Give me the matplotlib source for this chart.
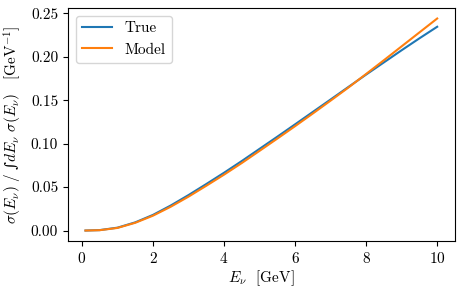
import numpy as np
import matplotlib
matplotlib.use('Agg')
import matplotlib.pyplot as plt

plt.rcParams['font.family'] = ['cmr10', 'DejaVu Serif']
plt.rcParams['mathtext.fontset'] = 'cm'
plt.rcParams['axes.formatter.use_mathtext'] = True
plt.rcParams['font.size'] = 11

# energies [GeV]
energy = [0.1, 0.5, 1.0, 1.5, 2.0, 2.5, 3.0, 3.5, 4.0, 4.5, 5.0,
          5.5, 6.0, 6.5, 7.0, 7.5, 8.0, 8.5, 9.0, 9.5, 10.0]
# normalised cross sections
true_xsec = [0.0, 0.0005, 0.0033, 0.0094, 0.0180, 0.0288, 0.0408, 0.0535, 0.0665, 0.0800, 0.0940,
             0.1080, 0.1222, 0.1365, 0.1508, 0.1652, 0.1795, 0.1935, 0.2075, 0.2212, 0.2345]
model_xsec = [0.0, 0.0004, 0.0030, 0.0089, 0.0171, 0.0274, 0.0390, 0.0515, 0.0643, 0.0777, 0.0917,
              0.1058, 0.1201, 0.1347, 0.1495, 0.1645, 0.1802, 0.1960, 0.2120, 0.2280, 0.2440]

fig = plt.figure(figsize=(4.65, 2.93), dpi=100)
ax = fig.add_axes([0.146, 0.177, 0.832, 0.796])

ax.plot(energy, true_xsec, label='True')
ax.plot(energy, model_xsec, label='Model')

ax.set_xlabel(r'$E_\nu$  [GeV]', labelpad=2)
ylab = ('$\\sigma(E_\\nu)\\ /\\ $\u222b$dE_\\nu\\ \\sigma(E_\\nu)'
        '\\quad [\\mathrm{GeV}^{-1}]$')
ax.set_ylabel(ylab, labelpad=5, family=['DejaVu Serif'])
ax.set_yticks([0.0, 0.05, 0.10, 0.15, 0.20, 0.25])
ax.set_yticklabels(['0.00', '0.05', '0.10', '0.15', '0.20', '0.25'])
ax.legend(loc='upper left')

fig.savefig('out.png', dpi=100)
